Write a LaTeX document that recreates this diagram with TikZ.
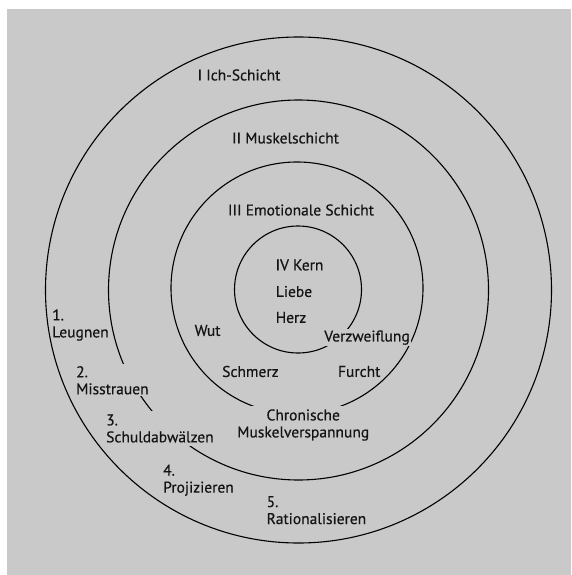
\documentclass[tikz,border=0pt]{standalone}
\usepackage{fontspec}
\setmainfont{PT Sans}[FakeBold=0.5]
\definecolor{paper}{RGB}{201,201,201}
\definecolor{ink}{RGB}{20,20,20}
\begin{document}
\begin{tikzpicture}[x=1pt,y=-1pt,
  ring/.style={draw=black,line width=1.1pt},
  lbl/.style={text=ink,font=\fontsize{15.5}{17}\selectfont,inner sep=1pt},
  mask/.style={lbl,fill=paper,inner sep=3pt},
  numlbl/.style={lbl,align=left,anchor=west,inner sep=1pt},
  masknum/.style={numlbl,fill=paper,inner sep=2pt}]
\useasboundingbox (0,0) rectangle (571,575);
\fill[white] (0,0) rectangle (571,575);
\fill[paper] (7,9) rectangle (571,575);
\coordinate (c) at (298.5,290);
\draw[ring] (c) circle[radius=253pt];
\draw[ring] (c) circle[radius=190pt];
\draw[ring] (297,288) circle[radius=126pt];
\draw[ring] (298,289.5) circle[radius=63.5pt];
% layer titles
\node[lbl] (t1) at (239,75) {I Ich-Schicht};
\node[lbl] (t2) at (285.5,138) {II Muskelschicht};
\node[lbl] (t3) at (301,210) {III Emotionale Schicht};
\node[lbl] (t4) at (299.5,265) {IV Kern};
\node[lbl] (liebe) at (294,291.5) {Liebe};
\node[lbl] (herz) at (291,317.5) {Herz};
% emotions
\node[lbl] (wut) at (207.6,330.5) {Wut};
\node[mask,inner sep=1.5pt] (verz) at (367,337.6) {Verzweiflung};
\node[lbl] (schmerz) at (250.4,371.5) {Schmerz};
\node[lbl] (furcht) at (359.2,371.5) {Furcht};
\node[mask,align=center,inner sep=3pt] (chron) at (303.2,425) {Chronische\\Muskelverspannung};
% defenses
\node[numlbl] (d1) at (51,325) {1.\\Leugnen};
\node[masknum,inner sep=2pt] (d2) at (74,380.3) {2.\\Misstrauen};
\node[masknum,inner sep=3pt] (d3) at (103,428.5) {3.\\Schuldabwälzen};
\node[numlbl] (d4) at (162,480.2) {4.\\Projizieren};
\node[numlbl] (d5) at (265.5,510.2) {5.\\Rationalisieren};
\end{tikzpicture}
\end{document}
